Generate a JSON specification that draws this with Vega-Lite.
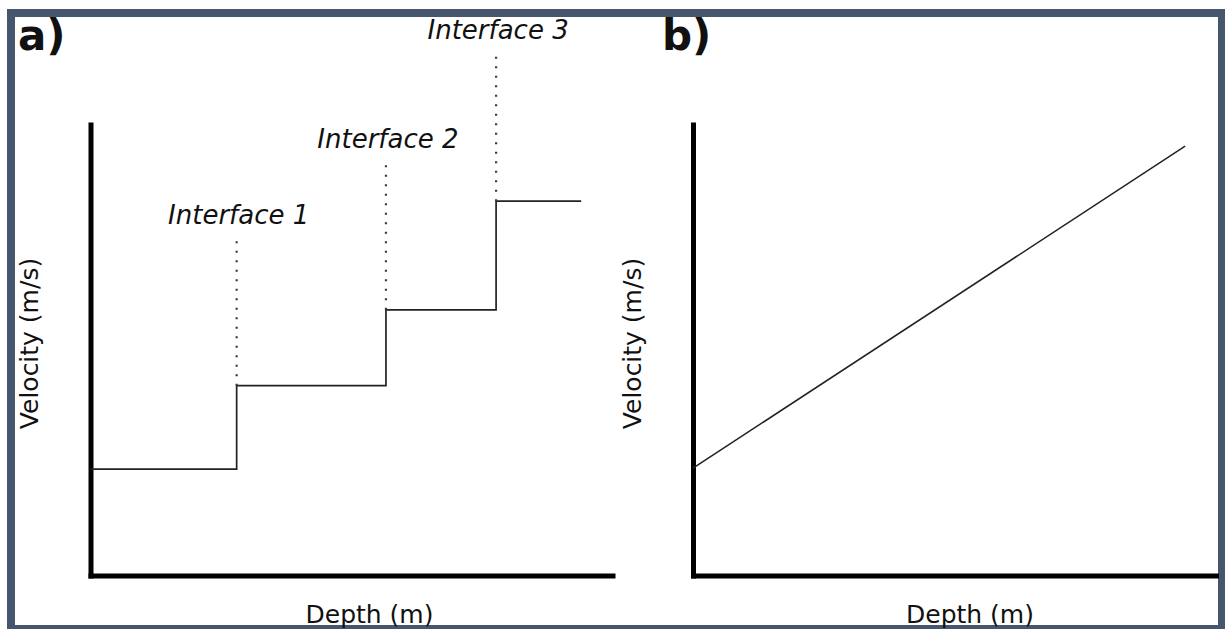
{
  "$schema": "https://vega.github.io/schema/vega-lite/v6.json",
  "width": 1211,
  "height": 616,
  "autosize": {"type": "none"},
  "padding": {"left": 11, "top": 13, "right": 3, "bottom": 0},
  "background": "white",
  "config": {
    "font": "DejaVu Sans",
    "view": {"stroke": "#46566e", "strokeWidth": 8},
    "axis": {
      "grid": false,
      "ticks": false,
      "labels": false,
      "domainColor": "#000000",
      "domainWidth": 5,
      "domainCap": "square",
      "titleFont": "DejaVu Sans",
      "titleFontSize": 25,
      "titleFontWeight": "normal",
      "titleColor": "#111111",
      "titleBaseline": "alphabetic",
      "titleAlign": "center"
    },
    "text": {"font": "DejaVu Sans", "color": "#111111"}
  },
  "datasets": {
    "steps": [
      {"depth": 0, "velocity": 23.6},
      {"depth": 28, "velocity": 42.1},
      {"depth": 56.6, "velocity": 58.9},
      {"depth": 77.7, "velocity": 83},
      {"depth": 94, "velocity": 83}
    ],
    "interfaces": [
      {"depth": 28, "velocity": 42.1, "label": "Interface 1"},
      {"depth": 56.6, "velocity": 58.9, "label": "Interface 2"},
      {"depth": 77.7, "velocity": 83, "label": "Interface 3"}
    ],
    "gradient": [
      {"depth": 0, "velocity": 23.8},
      {"depth": 94.1, "velocity": 95.2}
    ]
  },
  "layer": [
    {
      "layer": [
        {
          "data": {"name": "steps"},
          "mark": {"type": "line", "interpolate": "step-after", "color": "#222222", "strokeWidth": 1.7},
          "encoding": {
            "x": {
              "field": "depth", "type": "quantitative",
              "scale": {"domain": [0, 100], "range": [79.5, 601.5], "nice": false, "zero": false},
              "axis": {"orient": "bottom", "offset": -53.5, "title": "Depth (m)", "titleX": 358, "titleY": 46.5}
            },
            "y": {
              "field": "velocity", "type": "quantitative",
              "scale": {"domain": [0, 100], "range": [562.5, 111.5], "nice": false, "zero": false},
              "axis": {"orient": "left", "offset": -79.5, "title": "Velocity (m/s)", "titleAngle": -90, "titleX": -53.5, "titleY": 330}
            }
          }
        },
        {
          "data": {"name": "interfaces"},
          "mark": {"type": "rule", "color": "#3a3a3a", "strokeWidth": 2.2, "strokeDash": [2, 7.5], "y2Offset": -147},
          "encoding": {
            "x": {"field": "depth", "type": "quantitative"},
            "y": {"field": "velocity", "type": "quantitative"},
            "y2": {"field": "velocity"}
          }
        },
        {
          "data": {"name": "interfaces"},
          "mark": {"type": "text", "fontStyle": "italic", "fontSize": 26, "align": "center", "baseline": "alphabetic", "yOffset": -162, "xOffset": 2},
          "encoding": {
            "x": {"field": "depth", "type": "quantitative"},
            "y": {"field": "velocity", "type": "quantitative"},
            "text": {"field": "label"}
          }
        },
        {
          "data": {"values": [{"panel": "a)"}]},
          "mark": {"type": "text", "fontSize": 42, "fontWeight": "bold", "align": "left", "baseline": "alphabetic"},
          "encoding": {
            "x": {"datum": -13.9, "type": "quantitative"},
            "y": {"datum": 116.5, "type": "quantitative"},
            "text": {"field": "panel"}
          }
        }
      ]
    },
    {
      "layer": [
        {
          "data": {"name": "gradient"},
          "mark": {"type": "line", "color": "#222222", "strokeWidth": 1.5},
          "encoding": {
            "x": {
              "field": "depth", "type": "quantitative",
              "scale": {"domain": [0, 100], "range": [682, 1205], "nice": false, "zero": false},
              "axis": {"orient": "bottom", "offset": -53.5, "title": "Depth (m)", "titleX": 958.5, "titleY": 46.5}
            },
            "y": {
              "field": "velocity", "type": "quantitative",
              "scale": {"domain": [0, 100], "range": [562.5, 111.5], "nice": false, "zero": false},
              "axis": {"orient": "left", "offset": -682, "title": "Velocity (m/s)", "titleAngle": -90, "titleX": -53, "titleY": 330}
            }
          }
        },
        {
          "data": {"values": [{"panel": "b)"}]},
          "mark": {"type": "text", "fontSize": 42, "fontWeight": "bold", "align": "left", "baseline": "alphabetic"},
          "encoding": {
            "x": {"datum": -5.93, "type": "quantitative"},
            "y": {"datum": 116.5, "type": "quantitative"},
            "text": {"field": "panel"}
          }
        }
      ]
    }
  ],
  "resolve": {
    "scale": {"x": "independent", "y": "independent"},
    "axis": {"x": "independent", "y": "independent"}
  }
}
